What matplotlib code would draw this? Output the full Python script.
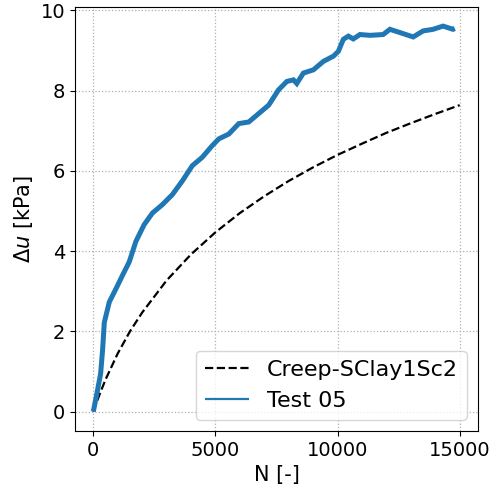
import numpy as np
import matplotlib
matplotlib.use("Agg")
from matplotlib import pyplot as plt

# Creep-SClay1Sc2 model prediction
n_model = [0, 250, 500, 1000, 1500, 2000, 3000, 4000, 5000, 6000, 7000,
           8000, 9000, 10000, 11000, 12000, 13000, 14000, 15000]
du_model = [0.0, 0.42, 0.80, 1.45, 2.00, 2.47, 3.27, 3.92, 4.47, 4.95, 5.37,
            5.75, 6.09, 6.40, 6.68, 6.95, 7.19, 7.42, 7.64]

# Test 05 measurements
n_test = [0, 177, 300, 381, 449, 653, 925, 1197, 1469, 1741, 2080, 2420, 2828,
          3236, 3644, 4052, 4460, 4868, 5140, 5548, 5956, 6364, 6772, 7180,
          7582, 7922, 8194, 8330, 8602, 9011, 9419, 9827, 10031, 10236, 10440,
          10644, 10917, 11325, 11869, 12142, 12550, 13095, 13503, 13911, 14319,
          14727, 14800]
du_test = [0.0, 0.55, 0.95, 1.55, 2.22, 2.73, 3.06, 3.40, 3.73, 4.24, 4.66,
           4.95, 5.16, 5.41, 5.75, 6.13, 6.34, 6.63, 6.80, 6.92, 7.18, 7.22,
           7.43, 7.64, 8.02, 8.23, 8.27, 8.18, 8.44, 8.52, 8.73, 8.86, 8.98,
           9.28, 9.36, 9.29, 9.40, 9.38, 9.40, 9.53, 9.45, 9.34, 9.49, 9.53,
           9.61, 9.53, 9.55]

plt.rcParams["font.size"] = 14

fig = plt.figure(figsize=(5.0, 4.88), dpi=100)
ax = fig.add_axes([0.15, 0.117, 0.806, 0.869])

ax.plot(n_model, du_model, "k--", lw=1.6, label="Creep-SClay1Sc2")
ax.plot(n_test, du_test, color="#1f77b4", lw=3.6, solid_capstyle="butt",
        solid_joinstyle="miter", label="Test 05")

ax.set_xlabel("N [-]", fontsize=15)
ax.set_ylabel(r"$\Delta u$ [kPa]", fontsize=15)
ax.set_xticks([0, 5000, 10000, 15000])
ax.set_yticks([0, 2, 4, 6, 8, 10])
ax.grid(True, linestyle=":", color="#b0b0b0", lw=0.9)

leg = ax.legend(loc="lower right", fontsize=16)
leg.get_lines()[1].set_linewidth(1.6)

plt.savefig("out.png", dpi=100)
